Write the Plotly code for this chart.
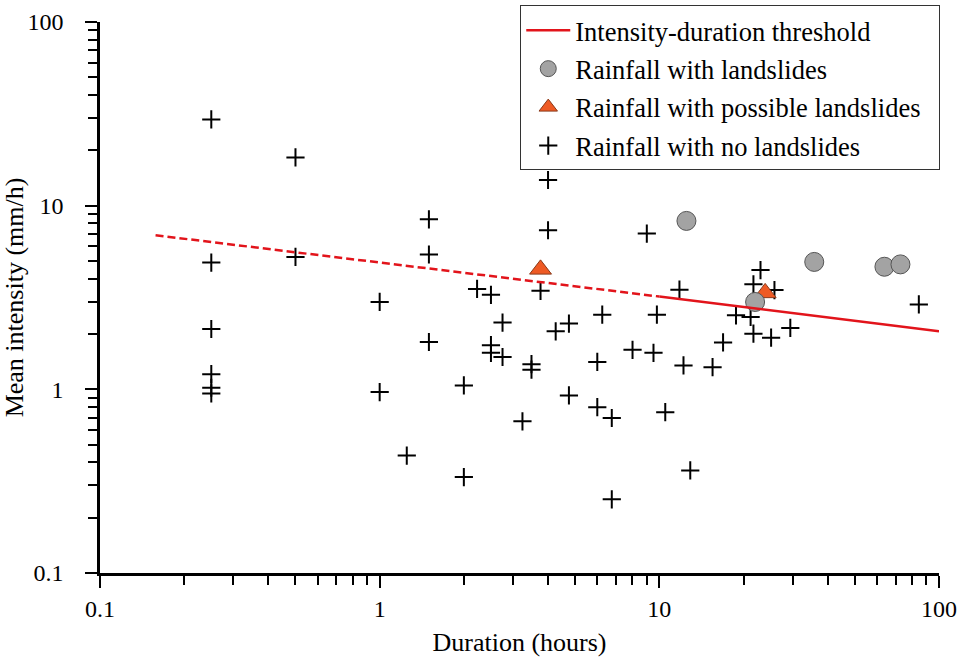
import plotly.graph_objects as go

# Rainfall events with no landslides: duration (h), mean intensity (mm/h)
no_ls_duration = [0.25, 0.25, 0.25, 0.25, 0.25, 0.25,
                  0.5, 0.5,
                  1.0, 1.0, 1.25,
                  1.5, 1.5, 1.5,
                  2.0, 2.0, 2.23,
                  2.5, 2.5, 2.5, 2.75, 2.75,
                  3.24, 3.49, 3.49, 3.76,
                  4.0, 4.0, 4.26, 4.75, 4.75,
                  6.0, 6.0, 6.25, 6.76, 6.76,
                  8.02, 9.02, 9.53, 9.8, 10.5,
                  11.8, 12.2, 12.9, 15.5, 16.9,
                  18.8, 21.2, 21.7, 21.7, 23.0, 25.1, 25.8, 29.4, 84.7]
no_ls_intensity = [29.5, 4.9, 2.13, 1.21, 1.02, 0.95,
                   18.3, 5.26,
                   2.99, 0.966, 0.436,
                   8.43, 5.42, 1.81,
                   1.05, 0.333, 3.52,
                   3.27, 1.74, 1.58, 2.31, 1.50,
                   0.67, 1.37, 1.28, 3.44,
                   13.8, 7.35, 2.07, 2.28, 0.927,
                   1.41, 0.80, 2.55, 0.698, 0.252,
                   1.64, 7.05, 1.58, 2.55, 0.751,
                   3.49, 1.35, 0.362, 1.32, 1.80,
                   2.53, 2.48, 3.73, 2.01, 4.46, 1.91, 3.47, 2.16, 2.90]

# Rainfall with landslides
ls_duration = [12.5, 22.0, 35.8, 63.8, 72.8]
ls_intensity = [8.26, 2.99, 4.94, 4.65, 4.79]

# Rainfall with possible landslides
poss_duration = [3.76, 23.9]
poss_intensity = [4.5, 3.35]

# Intensity-duration threshold (extrapolated part dashed, fitted part solid)
thr_dash_duration = [0.158, 10]
thr_dash_intensity = [6.9, 3.2]
thr_solid_duration = [10, 100]
thr_solid_intensity = [3.2, 2.07]

# Axis ticks
major_ticks = [0.1, 1, 10, 100]
major_labels = ["0.1", "1", "10", "100"]
minor_ticks = [m * d for d in (0.1, 1, 10) for m in range(2, 10)]

FONT = "Liberation Serif, Times New Roman, serif"
RED = "#e2141b"
NB = "\u00a0"

fig = go.Figure()

fig.add_trace(go.Scatter(
    x=no_ls_duration, y=no_ls_intensity, mode="markers",
    name="Rainfall with no landslides", legendgroup="d", legendrank=4,
    marker=dict(symbol="cross-thin", size=13, color="black",
                line=dict(color="black", width=2)),
))
fig.add_trace(go.Scatter(
    x=poss_duration, y=poss_intensity, mode="markers",
    name="Rainfall with possible landslides" + NB * 2, legendgroup="c", legendrank=3,
    marker=dict(symbol="triangle-up", size=19, color="#ee5a24",
                line=dict(color="#8a3a1a", width=1)),
))
fig.add_trace(go.Scatter(
    x=ls_duration, y=ls_intensity, mode="markers",
    name="Rainfall with landslides", legendgroup="b", legendrank=2,
    marker=dict(symbol="circle", size=19, color="#a3a3a3",
                line=dict(color="#555555", width=1)),
))
fig.add_trace(go.Scatter(
    x=thr_dash_duration, y=thr_dash_intensity, mode="lines",
    showlegend=False, legendgroup="a",
    line=dict(color=RED, width=2.5, dash="8px,4px"),
))
fig.add_trace(go.Scatter(
    x=thr_solid_duration, y=thr_solid_intensity, mode="lines",
    name="Intensity-duration threshold", legendgroup="a", legendrank=1,
    line=dict(color=RED, width=2.5),
))

axis_common = dict(
    type="log", range=[-1, 2], automargin=False,
    showgrid=False, zeroline=False,
    showline=True, linecolor="black", linewidth=2.5,
    ticks="outside", ticklen=12, tickwidth=2, tickcolor="black",
    tickmode="array", tickvals=major_ticks, ticktext=major_labels,
    tickfont=dict(family=FONT, size=24, color="black"),
    minor=dict(ticks="outside", ticklen=9, tickwidth=2, tickcolor="black",
               tickmode="array", tickvals=minor_ticks, showgrid=False),
    mirror=False,
)

fig.update_xaxes(**axis_common, ticklabelstandoff=0,
                 title=dict(text="Duration (hours)", standoff=13,
                            font=dict(family=FONT, size=26, color="black")))
fig.update_yaxes(**axis_common, ticklabelstandoff=17,
                 title=dict(text="Mean intensity (mm/h)", standoff=0,
                            font=dict(family=FONT, size=26, color="black")))

fig.update_layout(
    width=960, height=657,
    margin=dict(l=100, r=21, t=22, b=84, autoexpand=False),
    paper_bgcolor="white", plot_bgcolor="white",
    font=dict(family=FONT, size=24, color="black"),
    legend=dict(
        x=1.0015, xanchor="right", y=1.03, yanchor="top",
        bgcolor="white", bordercolor="#333333", borderwidth=1,
        font=dict(family=FONT, size=26.5, color="black"),
        tracegroupgap=1, itemwidth=44,
    ),
)

fig.write_html(
    "out.html",
    config={"displayModeBar": False},
    post_script="document.body.style.margin='0px';"
                "document.body.style.overflow='hidden';",
)
